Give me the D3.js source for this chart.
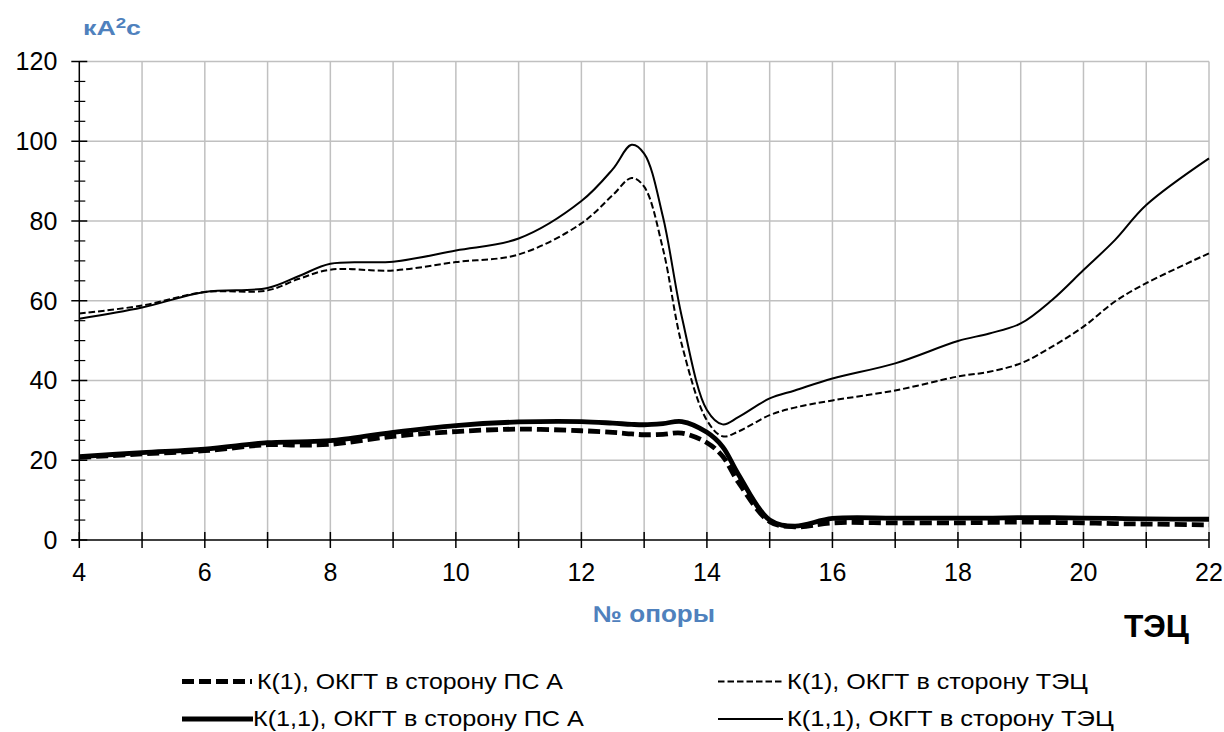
<!DOCTYPE html>
<html>
<head>
<meta charset="utf-8">
<script src="https://cdn.jsdelivr.net/npm/d3@7"></script>
<style>
  html, body { margin: 0; padding: 0; background: #fff; }
  svg { display: block; font-family: "Liberation Sans", Arial, sans-serif; }
</style>
</head>
<body>
<svg id="chart" width="1224" height="732"></svg>
<script>
// ---- data ----
const supports = [4,5,6,7,7.5,8,9,10,11,12,12.5,12.8,13,13.3,13.6,14,14.25,14.5,15,15.4,16,17,18,18.5,19,19.5,20,20.5,21,22];
// K(1), ОКГТ в сторону ПС А
const k1PsA  = [20.7,21.6,22.4,23.9,23.8,24.0,26.0,27.2,27.8,27.4,27.0,26.6,26.4,26.5,26.8,24.4,21.0,14.5,4.6,3.3,4.3,4.3,4.3,4.4,4.5,4.4,4.3,4.1,4.0,3.8];
// K(1), ОКГТ в сторону ТЭЦ
const k1Tec  = [56.8,58.8,62.2,62.6,65.5,67.8,67.6,69.7,71.6,79.4,86.5,90.8,88.6,73.0,49.0,30.0,26.0,27.2,31.3,33.2,35.0,37.5,41.0,42.2,44.3,48.5,53.5,59.8,64.4,71.9];
// K(1,1), ОКГТ в сторону ПС А
const k11PsA = [20.9,21.9,22.8,24.4,24.6,24.9,27.0,28.7,29.6,29.7,29.3,29.0,28.9,29.2,29.7,27.0,23.4,16.5,5.0,3.5,5.4,5.5,5.5,5.5,5.6,5.6,5.5,5.4,5.3,5.2];
// K(1,1), ОКГТ в сторону ТЭЦ
const k11Tec = [55.5,58.3,62.2,63.2,66.2,69.3,69.8,72.6,75.6,85.0,93.0,99.1,96.9,81.0,56.0,32.6,29.0,30.8,35.5,37.5,40.5,44.3,49.9,51.8,54.3,60.2,67.7,75.2,84.0,95.7];

const xTicks = [4,5,6,7,8,9,10,11,12,13,14,15,16,17,18,19,20,21,22];
const xTickLabels = [4,6,8,10,12,14,16,18,20,22];
const yTicks = [0,20,40,60,80,100,120];
const yMinorTicks = [5,10,15,25,30,35,45,50,55,65,70,75,85,90,95,105,110,115];

const seriesNames = [
  "К(1), ОКГТ в сторону ПС А",
  "К(1), ОКГТ в сторону ТЭЦ",
  "К(1,1), ОКГТ в сторону ПС А",
  "К(1,1), ОКГТ в сторону ТЭЦ"
];
const yTitle = "кА";
const yTitleSup = "2";
const yTitleEnd = "с";
const xTitle = "№ опоры";
const endLabel = "ТЭЦ";

// ---- drawing ----
const svg = d3.select("#chart");
const x = d3.scaleLinear().domain([4, 22]).range([79.3, 1209]);
const y = d3.scaleLinear().domain([0, 120]).range([540, 61.5]);

const grid = "#c0c0c0";
// vertical gridlines
svg.append("g").selectAll("line").data(xTicks.filter(d => d > 4)).join("line")
  .attr("x1", d => x(d)).attr("x2", d => x(d))
  .attr("y1", y(0)).attr("y2", y(120))
  .attr("stroke", grid).attr("stroke-width", 1.5);
// horizontal gridlines
svg.append("g").selectAll("line").data(yTicks.filter(d => d > 0)).join("line")
  .attr("x1", x(4)).attr("x2", x(22))
  .attr("y1", d => y(d)).attr("y2", d => y(d))
  .attr("stroke", grid).attr("stroke-width", 1.5);

// y axis
const yAxis = svg.append("g").attr("transform", `translate(${x(4)},0)`);
yAxis.append("line").attr("y1", y(0)).attr("y2", y(120)).attr("stroke", "#000").attr("stroke-width", 1.5);
yAxis.selectAll(".maj").data(yTicks).join("line").attr("class", "maj")
  .attr("x1", -8).attr("x2", 8).attr("y1", d => y(d)).attr("y2", d => y(d))
  .attr("stroke", "#000").attr("stroke-width", 1.5);
yAxis.selectAll(".min").data(yMinorTicks).join("line").attr("class", "min")
  .attr("x1", -5).attr("x2", 6).attr("y1", d => y(d)).attr("y2", d => y(d))
  .attr("stroke", "#000").attr("stroke-width", 1.2);
yAxis.selectAll("text").data(yTicks).join("text")
  .attr("x", -22).attr("y", d => y(d)).attr("dy", "0.35em")
  .attr("text-anchor", "end").attr("font-size", 25).attr("fill", "#000")
  .text(d => d);

// x axis
const xAxis = svg.append("g").attr("transform", `translate(0,${y(0)})`);
xAxis.append("line").attr("x1", x(4) - 8).attr("x2", x(22)).attr("stroke", "#000").attr("stroke-width", 1.5);
xAxis.selectAll("line.t").data(xTicks).join("line").attr("class", "t")
  .attr("x1", d => x(d)).attr("x2", d => x(d)).attr("y1", -8).attr("y2", 8)
  .attr("stroke", "#000").attr("stroke-width", 1.5);
xAxis.selectAll("text").data(xTickLabels).join("text")
  .attr("x", d => x(d)).attr("y", 41)
  .attr("text-anchor", "middle").attr("font-size", 25).attr("fill", "#000")
  .text(d => d);

// series
const styles = [
  { data: k1PsA,  width: 4.8, dash: "12,5" },
  { data: k1Tec,  width: 2,   dash: "6.5,3" },
  { data: k11PsA, width: 4.8, dash: null },
  { data: k11Tec, width: 2,   dash: null }
];
const line = d3.line().x(d => x(d[0])).y(d => y(d[1])).curve(d3.curveCatmullRom.alpha(0.5));
const drawOrder = [1, 3, 0, 2];
drawOrder.forEach(i => {
  const s = styles[i];
  svg.append("path")
    .datum(supports.map((v, j) => [v, s.data[j]]))
    .attr("d", line)
    .attr("fill", "none").attr("stroke", "#000")
    .attr("stroke-width", s.width)
    .attr("stroke-dasharray", s.dash)
    .attr("stroke-linejoin", "round");
});

// helper: stretch text horizontally to a target width
function fit(sel, x0, y0, target) {
  const w = sel.node().getComputedTextLength();
  sel.attr("x", 0).attr("y", 0)
     .attr("transform", `translate(${x0},${y0}) scale(${target / w},1)`);
}

// titles
const blue = "#4f81bd";
const yt = svg.append("text").attr("font-size", 20).attr("font-weight", "bold").attr("fill", blue);
yt.append("tspan").text(yTitle);
yt.append("tspan").attr("font-size", 14).attr("dy", -7).text(yTitleSup);
yt.append("tspan").attr("dy", 7).text(yTitleEnd);
fit(yt, 83, 35, 58);

const xt = svg.append("text").attr("font-size", 23).attr("font-weight", "bold").attr("fill", blue).text(xTitle);
fit(xt, 593, 622, 122);

const et = svg.append("text").attr("font-size", 32).attr("font-weight", "bold").attr("fill", "#000").text(endLabel);
fit(et, 1124, 637, 65);

// legend
const legendItems = [
  { s: 0, lx: 182, lx2: 252, ly: 681.5, tx: 257, ty: 689, tw: 306 },
  { s: 1, lx: 718, lx2: 783, ly: 681.5, tx: 787, ty: 689, tw: 301 },
  { s: 2, lx: 182, lx2: 253, ly: 719,   tx: 253, ty: 726, tw: 331 },
  { s: 3, lx: 718, lx2: 783, ly: 719,   tx: 787, ty: 726, tw: 327 }
];
legendItems.forEach(it => {
  const s = styles[it.s];
  svg.append("line")
    .attr("x1", it.lx).attr("x2", it.lx2).attr("y1", it.ly).attr("y2", it.ly)
    .attr("stroke", "#000").attr("stroke-width", s.width)
    .attr("stroke-dasharray", s.dash);
  const t = svg.append("text").attr("font-size", 22).attr("fill", "#000").text(seriesNames[it.s]);
  fit(t, it.tx, it.ty, it.tw);
});
</script>
</body>
</html>
